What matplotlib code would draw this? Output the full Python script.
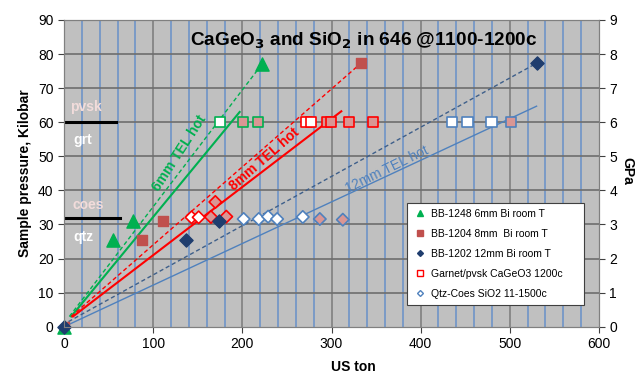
import numpy as np
import matplotlib.pyplot as plt
from matplotlib.lines import Line2D

plt.rcParams['font.family'] = ['Liberation Sans', 'DejaVu Sans']

# room temperature calibration runs (US ton, kbar)
bb1248_x = [0, 55, 77, 222]
bb1248_y = [0, 25.5, 31, 77]
bb1204_x = [0, 88, 110.5, 333]
bb1204_y = [0, 25.5, 31, 77.3]
bb1202_x = [0, 137, 174, 530]
bb1202_y = [0, 25.5, 31, 77.3]

# garnet / perovskite brackets in CaGeO3 (60 kbar)
grt_x = [175, 201, 217.6, 272, 277, 295, 299.6, 319.4, 346.4, 434.8, 452.5, 479.4, 501.1]
grt_y = [60] * 13
grt_asm = ['6mm', '6mm', '6mm', '8mm', '8mm', '8mm', '8mm', '8mm', '8mm', '12mm', '12mm', '12mm', '12mm']
grt_phase = ['grt', 'pvsk', 'pvsk', 'grt', 'grt', 'pvsk', 'pvsk', 'pvsk', 'pvsk', 'grt', 'grt', 'grt', 'pvsk']

# quartz / coesite brackets in SiO2
qc_x = [143, 151, 164.8, 169.7, 182, 201.5, 218.4, 228.9, 239, 267.8, 286.9, 312.7]
qc_y = [32.1, 32.1, 32.2, 36.6, 32.3, 31.6, 31.6, 32.3, 31.6, 32.2, 31.6, 31.4]
qc_asm = ['8mm', '8mm', '8mm', '8mm', '8mm', '12mm', '12mm', '12mm', '12mm', '12mm', '12mm', '12mm']
qc_phase = ['qtz', 'qtz', 'coes', 'coes', 'coes', 'qtz', 'qtz', 'qtz', 'qtz', 'qtz', 'coes', 'coes']

# calibration lines (start / end)
room6_x, room6_y = [6, 222], [3, 77]
hot6_x, hot6_y = [8, 197], [3, 63]
room8_x, room8_y = [8, 333], [3, 77.3]
hot8_x, hot8_y = [10, 311], [3, 63.2]
room12_x, room12_y = [5, 530], [1.5, 77.3]
hot12_x, hot12_y = [0, 530], [0, 64.7]

green = '#00b050'
red = '#ff0000'
brown = '#c0504d'
navy = '#1f3d6e'
steel = '#4f81bd'
pink = '#d99694'
asm_col = {'6mm': green, '8mm': red, '12mm': steel}
phase_fill = {'grt': 'white', 'pvsk': pink, 'qtz': 'white', 'coes': pink}

fig = plt.figure(figsize=(6.35, 3.76), dpi=100)
ax = fig.add_axes([0.1008, 0.131, 0.8425, 0.816])
ax.set_facecolor('#c0c0c0')

ax.set_xlim(0, 600)
ax.set_ylim(0, 90)
ax.set_xticks(np.arange(0, 601, 100))
ax.set_yticks(np.arange(0, 91, 10))
for xv in np.arange(20, 600, 20):
    c = '#808080' if xv % 100 == 0 else '#6f94c8'
    ax.axvline(xv, color=c, lw=1.2, zorder=0.5)
for yv in np.arange(10, 90, 10):
    ax.axhline(yv, color='#6e6e6e', lw=1.2, zorder=0.5)

ax.plot(room6_x, room6_y, '--', color=green, lw=1, dashes=(3, 2))
ax.plot(hot6_x, hot6_y, '-', color=green, lw=1.5)
ax.plot(room8_x, room8_y, '--', color=red, lw=1, dashes=(3, 2))
ax.plot(hot8_x, hot8_y, '-', color=red, lw=1.5)
ax.plot(room12_x, room12_y, '--', color='#3e5f8a', lw=1, dashes=(3, 2))
ax.plot(hot12_x, hot12_y, '-', color=steel, lw=1)

ax.plot([0, 58], [60, 60], color='black', lw=2.2)
ax.plot([0, 63], [32, 32], color='black', lw=2.2)

ax.scatter(grt_x, grt_y, marker='s', s=55, facecolors=[phase_fill[p] for p in grt_phase],
           edgecolors=[asm_col[a] for a in grt_asm], linewidths=1.2, zorder=3)
ax.scatter(qc_x, qc_y, marker='D', s=40, facecolors=[phase_fill[p] for p in qc_phase],
           edgecolors=[asm_col[a] for a in qc_asm], linewidths=1.2, zorder=3)
ax.scatter(bb1204_x, bb1204_y, marker='s', s=55, color=brown, zorder=4)
ax.scatter(bb1248_x, bb1248_y, marker='^', s=90, color=green, zorder=4, clip_on=False)
ax.scatter(bb1202_x, bb1202_y, marker='D', s=45, color=navy, zorder=5, clip_on=False)

ax.text(25, 64.6, 'pvsk', color='#f2dcdb', fontsize=10, fontweight='bold', ha='center', va='center')
ax.text(21, 54.7, 'grt', color='white', fontsize=10, fontweight='bold', ha='center', va='center')
ax.text(27, 35.8, 'coes', color='#f2dcdb', fontsize=10, fontweight='bold', ha='center', va='center')
ax.text(22, 26.3, 'qtz', color='white', fontsize=10, fontweight='bold', ha='center', va='center')

ax.text(130, 51, '6mm TEL hot', color=green, fontsize=10, fontweight='bold', rotation=57,
        ha='center', va='center')
ax.text(225, 49, '8mm TEL hot', color=red, fontsize=10, fontweight='bold', rotation=41,
        ha='center', va='center')
ax.text(362, 46, '12mm TEL hot', color=steel, fontsize=10, rotation=26,
        ha='center', va='center')

ax.text(0.56, 0.933, r'CaGeO$_\mathbf{3}$ and SiO$_\mathbf{2}$ in 646 @1100-1200c', transform=ax.transAxes,
        fontsize=13.7, fontweight='bold', ha='center', va='center')

for s in ax.spines.values():
    s.set_color('#808080')
ax.tick_params(labelsize=10, colors='#404040', length=4, labelcolor='black')
ax.set_xlabel('US ton', fontsize=10, fontweight='bold')
ax.xaxis.set_label_coords(0.54, -0.108)
ax.set_ylabel('Sample pressure, Kilobar', fontsize=10, fontweight='bold')

ax2 = ax.twinx()
ax2.set_ylim(0, 9)
ax2.set_yticks(np.arange(0, 10, 1))
ax2.tick_params(labelsize=10, colors='#404040', length=4, labelcolor='black')
for s in ax2.spines.values():
    s.set_color('#808080')
fig.text(627 / 635, 1 - 171 / 376, 'GPa', fontsize=10, fontweight='bold', rotation=270,
         ha='center', va='center')

handles = [
    Line2D([], [], ls='', marker='^', color=green, ms=4),
    Line2D([], [], ls='', marker='s', color=brown, ms=4),
    Line2D([], [], ls='', marker='D', color=navy, ms=3),
    Line2D([], [], ls='', marker='s', mfc='white', mec=red, ms=4),
    Line2D([], [], ls='', marker='D', mfc='white', mec=steel, ms=3),
]
labels = ['BB-1248 6mm Bi room T', 'BB-1204 8mm  Bi room T', 'BB-1202 12mm Bi room T',
          'Garnet/pvsk CaGeO3 1200c', 'Qtz-Coes SiO2 11-1500c']
leg = ax.legend(handles, labels, loc='lower left', bbox_to_anchor=(0.641, 0.071, 0.331, 0.3),
                mode='expand', borderaxespad=0, fontsize=7.5, frameon=True, fancybox=False,
                edgecolor='#404040', framealpha=1, labelspacing=0.95, handlelength=1.4,
                handletextpad=0.3, borderpad=0.6)
leg.get_frame().set_linewidth(0.8)

fig.savefig('out.png', dpi=100)
